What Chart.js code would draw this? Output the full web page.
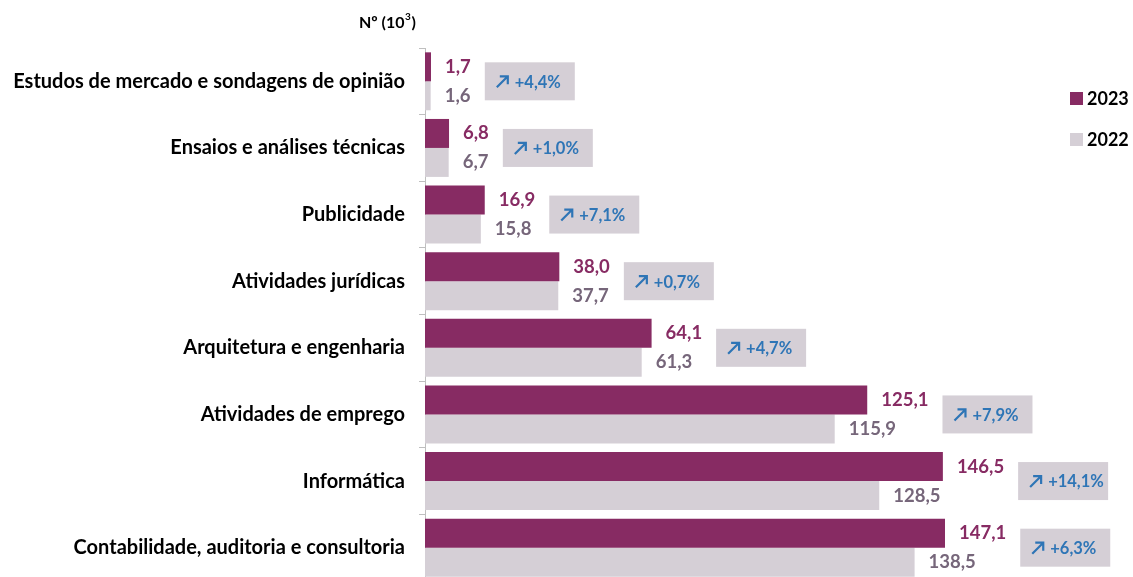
<!DOCTYPE html>
<html>
<head>
<meta charset="utf-8">
<script src="https://cdn.jsdelivr.net/npm/chart.js@4.4.1/dist/chart.umd.min.js"></script>
<style>
  html, body { margin: 0; padding: 0; background: #fff; overflow: hidden; }
  canvas { display: block; }
</style>
</head>
<body>
<canvas id="chart" width="1133" height="607"></canvas>
<script>
const categories = [
    'Estudos de mercado e sondagens de opinião',
    'Ensaios e análises técnicas',
    'Publicidade',
    'Atividades jurídicas',
    'Arquitetura e engenharia',
    'Atividades de emprego',
    'Informática',
    'Contabilidade, auditoria e consultoria'
];
const values2023 = [1.7, 6.8, 16.9, 38.0, 64.1, 125.1, 146.5, 147.1];
const values2022 = [1.6, 6.7, 15.8, 37.7, 61.3, 115.9, 128.5, 138.5];
const changeLabels = ['+4,4%', '+1,0%', '+7,1%', '+0,7%', '+4,7%', '+7,9%', '+14,1%', '+6,3%'];

const PURPLE = '#872B63';
const LIGHT = '#D5CFD6';
const GREY_TXT = '#76667A';
const BLUE = '#2E75B6';
const FONT = 'Lato, "Open Sans", sans-serif';

function fmt(v) {
    return v.toFixed(1).replace('.', ',');
}

// etiquetas de valor, caixas de variação, título e legenda
const annotations = {
    id: 'annotations',
    afterDatasetsDraw(chart) {
        const ctx = chart.ctx;
        const m23 = chart.getDatasetMeta(0);
        const m22 = chart.getDatasetMeta(1);
        const valFont = 'bold 18.5px ' + FONT;
        ctx.save();
        ctx.textBaseline = 'middle';
        ctx.textAlign = 'left';
        m23.data.forEach(function (bar, i) {
            const b22 = m22.data[i];
            const t23 = fmt(values2023[i]);
            const t22 = fmt(values2022[i]);
            ctx.font = valFont;
            ctx.fillStyle = PURPLE;
            ctx.fillText(t23, bar.x + 14, bar.y);
            ctx.fillStyle = GREY_TXT;
            ctx.fillText(t22, b22.x + 14, b22.y);

            const end = Math.max(bar.x + 14 + ctx.measureText(t23).width,
                                 b22.x + 14 + ctx.measureText(t22).width);
            const boxX = end + 14;
            const midY = (bar.y + b22.y) / 2;
            ctx.fillStyle = LIGHT;
            ctx.fillRect(boxX, midY - 19, 90, 38);

            // seta
            const ax = boxX + 12, ay = midY + 6;
            ctx.strokeStyle = BLUE;
            ctx.lineWidth = 2.2;
            ctx.beginPath();
            ctx.moveTo(ax, ay);
            ctx.lineTo(ax + 11, ay - 11);
            ctx.moveTo(ax + 3, ay - 11);
            ctx.lineTo(ax + 11, ay - 11);
            ctx.lineTo(ax + 11, ay - 3);
            ctx.stroke();

            ctx.font = 'bold 16.5px ' + FONT;
            ctx.fillStyle = BLUE;
            ctx.fillText(changeLabels[i], boxX + 30, midY + 1);
        });

        // título do eixo
        ctx.fillStyle = '#000';
        ctx.textAlign = 'left';
        ctx.font = 'bold 16px ' + FONT;
        ctx.fillText('Nº (10', 359, 23);
        let x = 359 + ctx.measureText('Nº (10').width;
        ctx.font = 'bold 10px ' + FONT;
        ctx.fillText('3', x + 0.5, 17);
        x += ctx.measureText('3').width + 1;
        ctx.font = 'bold 16px ' + FONT;
        ctx.fillText(')', x, 23);

        // legenda
        ctx.font = 'bold 18px ' + FONT;
        ctx.fillStyle = PURPLE;
        ctx.fillRect(1070, 92, 13, 13);
        ctx.fillStyle = LIGHT;
        ctx.fillRect(1070, 133, 13, 13);
        ctx.fillStyle = '#000';
        ctx.fillText('2023', 1087, 99);
        ctx.fillText('2022', 1087, 140);
        ctx.restore();
    }
};

new Chart(document.getElementById('chart'), {
    type: 'bar',
    data: {
        labels: categories,
        datasets: [
            { label: '2023', data: values2023, backgroundColor: PURPLE },
            { label: '2022', data: values2022, backgroundColor: LIGHT }
        ]
    },
    options: {
        indexAxis: 'y',
        responsive: false,
        animation: false,
        layout: { padding: { top: 48, right: 1, bottom: 8, left: 0 } },
        datasets: {
            bar: { categoryPercentage: 0.87, barPercentage: 1.0 }
        },
        plugins: {
            legend: { display: false },
            tooltip: { enabled: false }
        },
        scales: {
            x: {
                display: false,
                min: 0,
                max: 200
            },
            y: {
                afterFit: function (scale) { scale.width = 425; },
                border: { display: true, color: '#BFBFBF', width: 1 },
                grid: { drawOnChartArea: false, tickLength: 6, color: '#BFBFBF' },
                ticks: {
                    color: '#000',
                    padding: 14,
                    font: { family: FONT, size: 20, weight: 'bold' }
                }
            }
        }
    },
    plugins: [annotations]
});
</script>
</body>
</html>
